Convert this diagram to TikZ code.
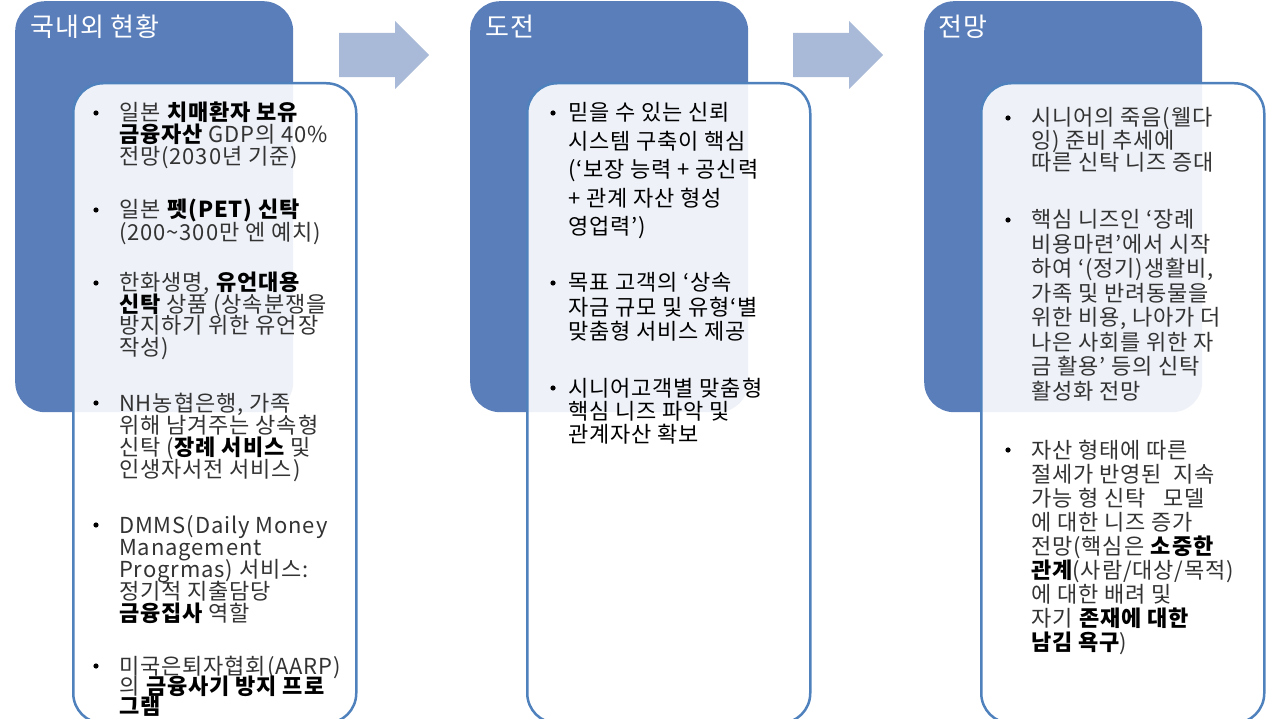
\documentclass[tikz,border=0pt]{standalone}
\usepackage{fontspec}
\setmainfont{Noto Sans CJK KR}[LetterSpace=4]
\usepackage{tikz}
\usetikzlibrary{shapes.arrows}
\definecolor{headblue}{HTML}{5A7EBA}
\definecolor{edgeblue}{HTML}{4F81BD}
\definecolor{arrowblue}{HTML}{A9B9D8}
\definecolor{bodygray}{HTML}{333333}
% lines of one item, set at a fixed pitch (#1, in pt)
\newcommand{\itemlines}[2]{{\fontsize{22}{#1}\selectfont\lineskiplimit=-100pt\lineskip=0pt\let\\\cr\vtop{\halign{##\hfil\cr #2\crcr}}}}
\newcommand{\hl}[1]{\textbf{\color{black}#1}}

\begin{document}
\begin{tikzpicture}[x=1pt,y=-1pt,
  headbox/.style={draw=none, fill=headblue, rounded corners=30pt, minimum width=278pt, minimum height=411pt, anchor=north west, inner sep=0pt},
  bodybox/.style={draw=edgeblue, line width=2.5pt, fill=white, fill opacity=0.9, rounded corners=30pt, minimum width=283pt, minimum height=640pt, anchor=north west, inner sep=0pt},
  headtext/.style={anchor=base west, inner sep=0pt, text=white, font=\fontsize{26}{30}\selectfont},
  itemtext/.style={anchor=base west, inner sep=0pt, text=bodygray},
  flowarrow/.style={single arrow, fill=arrowblue, draw=none, minimum height=90pt, inner xsep=0pt, inner ysep=22pt, single arrow head extend=12pt, anchor=tail},
]
\useasboundingbox (0,0) rectangle (1280,719);

% columns
\node[headbox] (nowHead) at (15,1) {};
\node[headbox] (hurdleHead) at (470,1) {};
\node[headbox] (outlookHead) at (924,1) {};
\node[headtext] (nowTitle) at (30,37) {국내외 현황};
\node[headtext] (hurdleTitle) at (485,37) {도전};
\node[headtext] (outlookTitle) at (938,37) {전망};

\node[flowarrow] (arrA) at (339,55) {};
\node[flowarrow] (arrB) at (793,55) {};

\node[bodybox] (nowBody) at (72,82) {};
\node[bodybox] (hurdleBody) at (526,82) {};
\node[bodybox] (outlookBody) at (980,82) {};

% bullets
\foreach \bx/\by in {96/113, 96/210, 96/283, 96/403, 96/525, 96/666,
                     553/113, 553/283, 553/388,
                     1008/118, 1008/220, 1008/450}
  \fill[black] (\bx,\by) circle (2.6);

% left column
\node[itemtext] (now1) at (119,121) {\itemlines{22}{일본 \hl{치매환자 보유}\\ \hl{금융자산} GDP의 40\%\\ 전망(2030년 기준)}};
\node[itemtext] (now2) at (119,218) {\itemlines{23}{일본 \hl{펫(PET) 신탁}\\ (200\textasciitilde300만 엔 예치)}};
\node[itemtext] (now3) at (119,291) {\itemlines{21.5}{한화생명, \hl{유언대용}\\ \hl{신탁} 상품 (상속분쟁을\\ 방지하기 위한 유언장\\ 작성)}};
\node[itemtext] (now4) at (119,411) {\itemlines{22.3}{NH농협은행, 가족\\ 위해 남겨주는 상속형\\ 신탁 (\hl{장례 서비스} 및\\ 인생자서전 서비스)}};
\node[itemtext] (now5) at (119,533) {\itemlines{22}{DMMS(Daily Money\\ Management\\ Progrmas) 서비스:\\ 정기적 지출담당\\ \hl{금융집사} 역할}};
\node[itemtext] (now6) at (119,674) {\itemlines{20}{미국은퇴자협회(AARP)\\ 의 \hl{금융사기 방지 프로}\\ \hl{그램}}};

% middle column
\node[itemtext, text=black] (hurdle1) at (568,121) {\itemlines{28.5}{믿을 수 있는 신뢰\\ 시스템 구축이 핵심\\ (‘보장 능력 + 공신력\\ + 관계 자산 형성\\ 영업력’)}};
\node[itemtext, text=black] (hurdle2) at (568,291) {\itemlines{24.5}{목표 고객의 ‘상속\\ 자금 규모 및 유형‘별\\ 맞춤형 서비스 제공}};
\node[itemtext, text=black] (hurdle3) at (568,396) {\itemlines{23}{시니어고객별 맞춤형\\ 핵심 니즈 파악 및\\ 관계자산 확보}};

% right column
\node[itemtext] (outlook1) at (1031,126) {\itemlines{22.5}{시니어의 죽음(웰다\\ 잉) 준비 추세에\\ 따른 신탁 니즈 증대}};
\node[itemtext] (outlook2) at (1031,228) {\itemlines{24.5}{핵심 니즈인 ‘장례\\ 비용마련’에서 시작\\ 하여 ‘(정기)생활비,\\ 가족 및 반려동물을\\ 위한 비용, 나아가 더\\ 나은 사회를 위한 자\\ 금 활용’ 등의 신탁\\ 활성화 전망}};
\node[itemtext] (outlook3) at (1031,458) {\itemlines{24.1}{자산 형태에 따른\\ 절세가 반영된\ \ 지속\\ 가능 형 신탁\ \ \ 모델\\ 에 대한 니즈 증가\\ 전망(핵심은 \hl{소중한}\\ \hl{관계}(사람/대상/목적)\\ 에 대한 배려 및\\ 자기 \hl{존재에 대한}\\ \hl{남김 욕구})}};
\end{tikzpicture}
\end{document}
